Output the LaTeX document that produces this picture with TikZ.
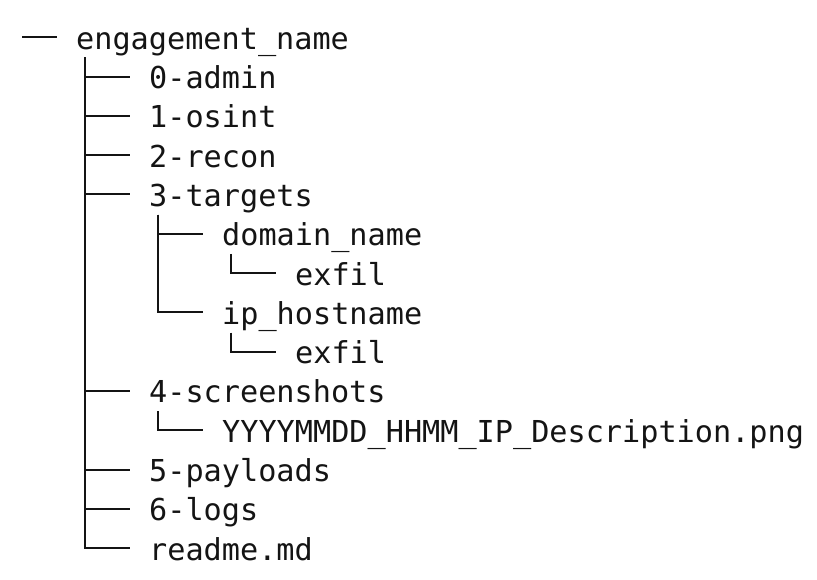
\documentclass[tikz,border=0pt]{standalone}
\usepackage{fontspec}
\setmonofont{DejaVu Sans Mono}
\begin{document}
\begin{tikzpicture}[x=1pt, y=-1pt,
    every node/.style={font=\ttfamily\fontsize{30.2}{36}\selectfont, text=black!92},
    entry/.style={anchor=west, inner sep=0pt, text height=32pt, text depth=8pt},
    branch/.style={draw=black!92, line width=2pt}
  ]
  \fill[white] (0,0) rectangle (817,579);
  \node[entry] (root)     at (76, 37)    {engagement\_name};
  \node[entry] (admin)    at (149, 76.5)  {0-admin};
  \node[entry] (osint)    at (149, 115.8) {1-osint};
  \node[entry] (recon)    at (149, 155.1) {2-recon};
  \node[entry] (targets)  at (149, 194.4) {3-targets};
  \node[entry] (domain)   at (222, 233.7) {domain\_name};
  \node[entry] (domexfil) at (295, 273.0) {exfil};
  \node[entry] (iphost)   at (222, 312.3) {ip\_hostname};
  \node[entry] (ipexfil)  at (295, 351.6) {exfil};
  \node[entry] (shots)    at (149, 390.9) {4-screenshots};
  \node[entry] (png)      at (222, 430.2) {YYYYMMDD\_HHMM\_IP\_Description.png};
  \node[entry] (payloads) at (149, 469.5) {5-payloads};
  \node[entry] (logs)     at (149, 508.8) {6-logs};
  \node[entry] (readme)   at (149, 548.1) {readme.md};
  \draw[branch] ([xshift=-54pt]root.west) -- ([xshift=-19pt]root.west);
  \foreach \c in {admin,osint,recon,targets,shots,payloads,logs,readme}
    \draw[branch] ([xshift=9pt]root.south west) |- ([xshift=-19pt]\c.west);
  \foreach \c in {domain,iphost}
    \draw[branch] ([xshift=9pt]targets.south west) |- ([xshift=-19pt]\c.west);
  \draw[branch] ([xshift=9pt]domain.south west) |- ([xshift=-19pt]domexfil.west);
  \draw[branch] ([xshift=9pt]iphost.south west) |- ([xshift=-19pt]ipexfil.west);
  \draw[branch] ([xshift=9pt]shots.south west) |- ([xshift=-19pt]png.west);
\end{tikzpicture}
\end{document}
